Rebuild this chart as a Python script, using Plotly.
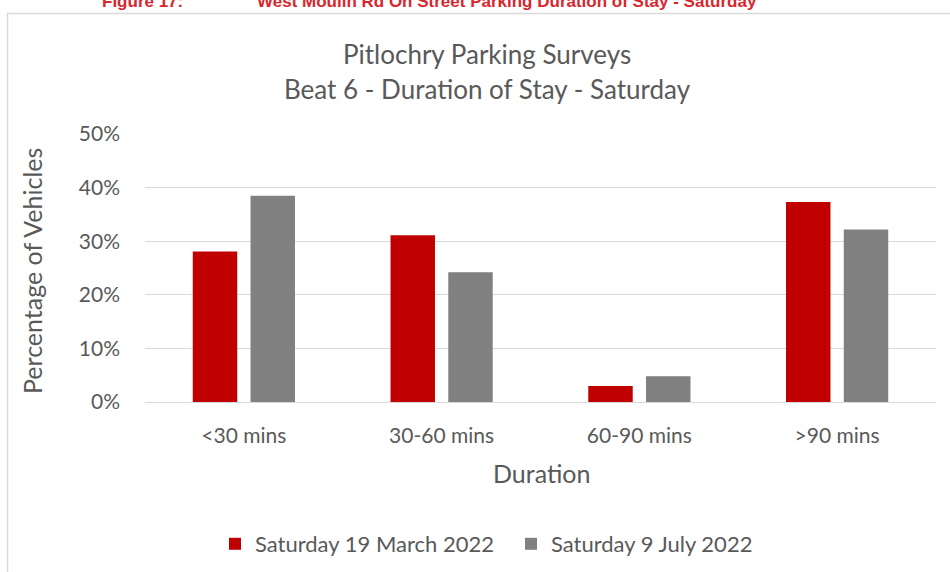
import plotly.graph_objects as go

categories = ["<30 mins", "30-60 mins", "60-90 mins", ">90 mins"]
march_2022 = [0.281, 0.311, 0.030, 0.373]
july_2022 = [0.385, 0.242, 0.048, 0.322]
series_names = ["Saturday 19 March 2022", "Saturday 9 July 2022"]
tick_vals = [0, 0.1, 0.2, 0.3, 0.4, 0.5]
tick_text = ["0%", "10%", "20%", "30%", "40%", "50%"]

FONT = "Lato"
TXT = "#595959"

fig = go.Figure()
fig.add_trace(go.Bar(x=categories, y=march_2022, name=series_names[0],
                     marker=dict(color="#C00000", line=dict(width=0))))
fig.add_trace(go.Bar(x=categories, y=july_2022, name=series_names[1],
                     marker=dict(color="#808080", line=dict(width=0))))

L, R, T, B = 145, 14, 134, 170
W, H = 950, 572
pw, ph = W - L - R, H - T - B

def px(x):
    return (x - L) / pw

def py(y):
    return (H - B - y) / ph

fig.update_layout(
    width=W, height=H,
    margin=dict(l=L, r=R, t=T, b=B, autoexpand=False),
    paper_bgcolor="white", plot_bgcolor="white",
    barmode="group", bargap=0.416, bargroupgap=0.23,
    font=dict(family=FONT, color=TXT, size=17),
    showlegend=True,
    legend=dict(orientation="h", x=px(215), y=py(544), xanchor="left", yanchor="middle",
                font=dict(family=FONT, size=22, color=TXT), itemwidth=30,
                entrywidth=251, entrywidthmode="pixels",
                bgcolor="rgba(0,0,0,0)", traceorder="normal"),
    xaxis=dict(showgrid=False, showline=False, ticks="", tickfont=dict(size=21, color=TXT),
               ticklabelstandoff=19),
    yaxis=dict(range=[0, 0.5], tickvals=tick_vals, ticktext=tick_text,
               showgrid=True, gridcolor="#d9d9d9", gridwidth=1,
               zeroline=True, zerolinecolor="#d9d9d9", zerolinewidth=1,
               showline=False, ticks="", tickfont=dict(size=21, color=TXT),
               ticklabelstandoff=24),
    shapes=[dict(type="rect", xref="paper", yref="paper",
                 x0=px(7.5), x1=px(1000), y0=py(700), y1=py(13.5),
                 line=dict(color="#d9d9d9", width=1.5), fillcolor="rgba(0,0,0,0)", layer="below")],
    annotations=[
        dict(text="Pitlochry Parking Surveys", xref="paper", yref="paper",
             x=px(487), y=py(54), xanchor="center", yanchor="middle", showarrow=False,
             font=dict(family=FONT, size=26, color=TXT)),
        dict(text="Beat 6 - Duration of Stay - Saturday", xref="paper", yref="paper",
             x=px(487), y=py(89), xanchor="center", yanchor="middle", showarrow=False,
             font=dict(family=FONT, size=26, color=TXT)),
        dict(text="Duration", xref="paper", yref="paper",
             x=px(541), y=py(473), xanchor="center", yanchor="middle", showarrow=False,
             font=dict(family=FONT, size=25, color=TXT)),
        dict(text="Percentage of Vehicles", xref="paper", yref="paper", textangle=-90,
             x=px(32), y=py(271), xanchor="center", yanchor="middle", showarrow=False,
             font=dict(family=FONT, size=25, color=TXT)),
        dict(text="<b>Figure 17:</b>", xref="paper", yref="paper",
             x=px(100), y=py(1), xanchor="left", yanchor="middle", showarrow=False,
             font=dict(family="Liberation Sans", size=17, color="#D9262E")),
        dict(text="<b>West Moulin Rd On Street Parking Duration of Stay - Saturday</b>",
             xref="paper", yref="paper",
             x=px(255), y=py(1), xanchor="left", yanchor="middle", showarrow=False,
             font=dict(family="Liberation Sans", size=17, color="#D9262E")),
    ],
)

fig.write_html("out.html", config={"displayModeBar": False},
               post_script="document.body.style.margin='0';document.body.style.overflow='hidden';")
